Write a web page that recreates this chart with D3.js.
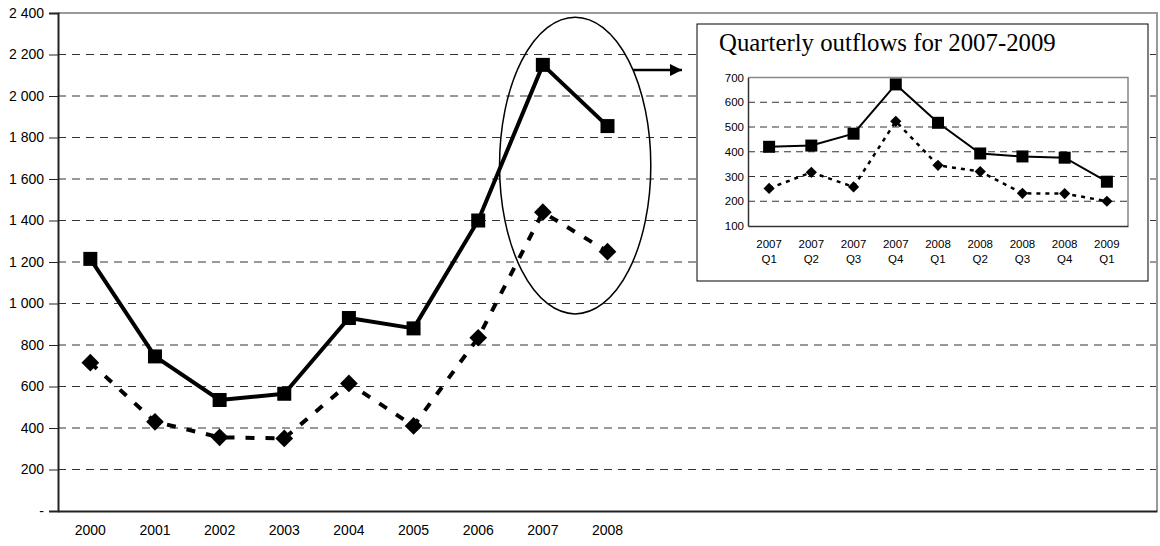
<!DOCTYPE html>
<html>
<head>
<meta charset="utf-8">
<script src="https://cdn.jsdelivr.net/npm/d3@7"></script>
<style>
  body { margin: 0; background: #fff; }
  svg { display: block; }
  .tick text { font-family: "Liberation Sans", Arial, sans-serif; fill: #000; }
</style>
</head>
<body>
<script>
// annual data
const years = ["2000", "2001", "2002", "2003", "2004", "2005", "2006", "2007", "2008"];
const annualTotal = [1215, 745, 535, 565, 930, 880, 1400, 2150, 1855];
const annualOther = [715, 430, 355, 350, 615, 410, 835, 1440, 1250];
const yTicks = [0, 200, 400, 600, 800, 1000, 1200, 1400, 1600, 1800, 2000, 2200, 2400];

// quarterly data (inset)
const quarters = ["2007 Q1", "2007 Q2", "2007 Q3", "2007 Q4", "2008 Q1", "2008 Q2", "2008 Q3", "2008 Q4", "2009 Q1"];
const quarterTotal = [420, 425, 473, 672, 517, 393, 381, 376, 279];
const quarterOther = [252, 317, 258, 523, 345, 320, 232, 231, 200];
const qTicks = [100, 200, 300, 400, 500, 600, 700];
const insetTitle = "Quarterly outflows for 2007-2009";

const W = 1160, H = 546;
const slots = 17; // category slots on the main axis (only first ones labelled)

const svg = d3.select("body").append("svg")
    .attr("width", W)
    .attr("height", H);

const loc = d3.formatLocale({decimal: ".", thousands: "\u00a0", grouping: [3], currency: ["", ""]});
const fmt = loc.format(",");

// main scales
const x = d3.scaleBand().domain(d3.range(slots)).range([58, 1157]);
const y = d3.scaleLinear().domain([0, 2400]).range([511, 13]);
const cx = i => x(i) + x.bandwidth() / 2;

// gridlines
svg.append("g").selectAll("line")
    .data(yTicks.filter(d => d > 0 && d < 2400))
    .join("line")
    .attr("x1", 58).attr("x2", 1157)
    .attr("y1", d => y(d)).attr("y2", d => y(d))
    .attr("stroke", "#333").attr("stroke-width", 1)
    .attr("stroke-dasharray", "8,6");

// plot border (top/right gray)
svg.append("path")
    .attr("d", `M58,${y(2400)}H1157V${y(0)}`)
    .attr("fill", "none").attr("stroke", "#999").attr("stroke-width", 2);

// y axis
const yAxis = svg.append("g")
    .attr("transform", "translate(58,0)")
    .call(d3.axisLeft(y).tickValues(yTicks).tickSize(9).tickPadding(5)
        .tickFormat(d => d === 0 ? "-" : fmt(d)));
yAxis.select(".domain").attr("stroke", "#222").attr("stroke-width", 2);
yAxis.selectAll(".tick line").attr("stroke", "#222");
yAxis.selectAll(".tick text").style("font-size", "14px");

// x axis
const xAxis = svg.append("g")
    .attr("transform", `translate(0,${y(0)})`)
    .call(d3.axisBottom(x).tickSize(0).tickPadding(14)
        .tickFormat(i => years[i] || ""));
xAxis.select(".domain").attr("stroke", "#222").attr("stroke-width", 2);
xAxis.selectAll(".tick text").style("font-size", "14px");

// other (dashed) line
svg.append("path")
    .datum(annualOther)
    .attr("fill", "none").attr("stroke", "#000").attr("stroke-width", 4)
    .attr("stroke-dasharray", "9,11")
    .attr("d", d3.line().x((d, i) => cx(i)).y(d => y(d)));

svg.append("g").selectAll("path")
    .data(annualOther)
    .join("path")
    .attr("transform", (d, i) => `translate(${cx(i)},${y(d)})`)
    .attr("d", d3.symbol(d3.symbolDiamond2, 200))
    .attr("fill", "#000");

// total (solid) line
svg.append("path")
    .datum(annualTotal)
    .attr("fill", "none").attr("stroke", "#000").attr("stroke-width", 4)
    .attr("stroke-linejoin", "round")
    .attr("d", d3.line().x((d, i) => cx(i)).y(d => y(d)));

svg.append("g").selectAll("rect")
    .data(annualTotal)
    .join("rect")
    .attr("x", (d, i) => cx(i) - 7).attr("y", d => y(d) - 7)
    .attr("width", 14).attr("height", 14)
    .attr("fill", "#000");

// ellipse around 2007-2008
svg.append("ellipse")
    .attr("cx", (cx(7) + cx(8)) / 2)
    .attr("cy", y(1665))
    .attr("rx", x.bandwidth() * 1.17)
    .attr("ry", y(950) - y(1665))
    .attr("fill", "none").attr("stroke", "#000").attr("stroke-width", 1.5);

// arrow
svg.append("defs").append("marker")
    .attr("id", "arr").attr("viewBox", "0 0 10 10")
    .attr("refX", 10).attr("refY", 5)
    .attr("markerWidth", 5).attr("markerHeight", 5)
    .attr("markerUnits", "strokeWidth")
    .attr("orient", "auto")
    .append("path").attr("d", "M0,0L10,5L0,10Z").attr("fill", "#000");

svg.append("line")
    .attr("x1", 633).attr("x2", 682)
    .attr("y1", y(2125)).attr("y2", y(2125))
    .attr("stroke", "#000").attr("stroke-width", 2.5)
    .attr("marker-end", "url(#arr)");

// ---------- inset ----------
const inset = svg.append("g");
inset.append("rect")
    .attr("x", 697).attr("y", 24).attr("width", 451).attr("height", 257)
    .attr("fill", "#fff").attr("stroke", "#000").attr("stroke-width", 1);

inset.append("text")
    .attr("x", 719).attr("y", 51)
    .style("font-family", "'Liberation Serif', 'Times New Roman', serif")
    .style("font-size", "24.8px")
    .text(insetTitle);

const qx = d3.scaleBand().domain(d3.range(quarters.length)).range([748, 1128]);
const qy = d3.scaleLinear().domain([100, 700]).range([226, 77.5]);
const qcx = i => qx(i) + qx.bandwidth() / 2;

inset.append("g").selectAll("line")
    .data(qTicks.filter(d => d > 100 && d < 700))
    .join("line")
    .attr("x1", 748).attr("x2", 1128)
    .attr("y1", d => qy(d)).attr("y2", d => qy(d))
    .attr("stroke", "#333").attr("stroke-width", 1)
    .attr("stroke-dasharray", "7,5");

inset.append("path")
    .attr("d", `M748,${qy(700)}H1128V${qy(100)}`)
    .attr("fill", "none").attr("stroke", "#888").attr("stroke-width", 1.5);

const qyAxis = inset.append("g")
    .attr("transform", "translate(748,0)")
    .call(d3.axisLeft(qy).tickValues(qTicks).tickSize(0).tickPadding(4));
qyAxis.select(".domain").attr("stroke", "#333").attr("stroke-width", 1.5);
qyAxis.selectAll(".tick text").style("font-size", "11.5px");

const qxAxis = inset.append("g")
    .attr("transform", `translate(0,${qy(100)})`)
    .call(d3.axisBottom(qx).tickSize(0).tickFormat(""));
qxAxis.select(".domain").attr("stroke", "#333").attr("stroke-width", 1.5);

const qlab = inset.append("g").selectAll("text")
    .data(quarters)
    .join("text")
    .attr("x", (d, i) => qcx(i))
    .attr("y", 248)
    .attr("text-anchor", "middle")
    .style("font-family", "'Liberation Sans', Arial, sans-serif")
    .style("font-size", "11.5px");
qlab.append("tspan").attr("x", (d, i) => qcx(i)).text(d => d.split(" ")[0]);
qlab.append("tspan").attr("x", (d, i) => qcx(i)).attr("dy", 15).text(d => d.split(" ")[1]);

inset.append("path")
    .datum(quarterOther)
    .attr("fill", "none").attr("stroke", "#000").attr("stroke-width", 2.5)
    .attr("stroke-dasharray", "4,5")
    .attr("d", d3.line().x((d, i) => qcx(i)).y(d => qy(d)));

inset.append("g").selectAll("path")
    .data(quarterOther)
    .join("path")
    .attr("transform", (d, i) => `translate(${qcx(i)},${qy(d)})`)
    .attr("d", d3.symbol(d3.symbolDiamond2, 80))
    .attr("fill", "#000");

inset.append("path")
    .datum(quarterTotal)
    .attr("fill", "none").attr("stroke", "#000").attr("stroke-width", 2)
    .attr("d", d3.line().x((d, i) => qcx(i)).y(d => qy(d)));

inset.append("g").selectAll("rect")
    .data(quarterTotal)
    .join("rect")
    .attr("x", (d, i) => qcx(i) - 6).attr("y", d => qy(d) - 6)
    .attr("width", 12).attr("height", 12)
    .attr("fill", "#000");
</script>
</body>
</html>
